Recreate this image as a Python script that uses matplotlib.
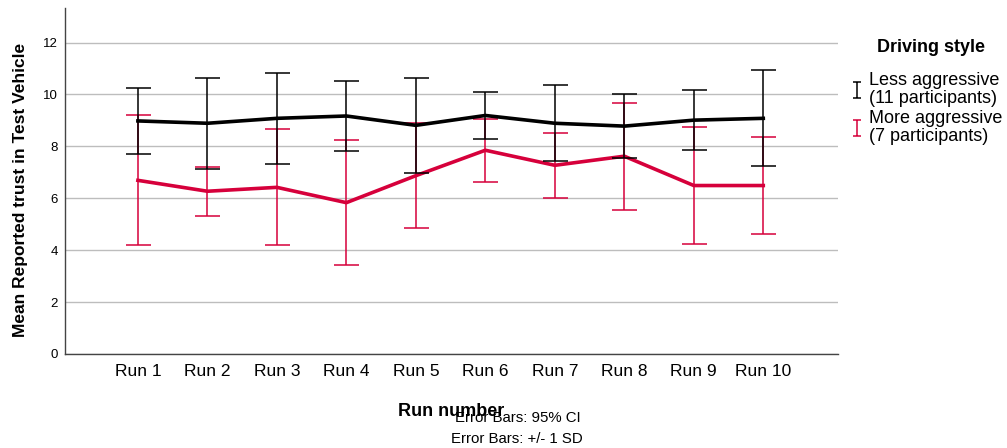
import numpy as np
import matplotlib.pyplot as plt
from matplotlib.lines import Line2D
from matplotlib.path import Path

plt.rcParams['font.family'] = ['Liberation Sans', 'DejaVu Sans']

runs = ['Run 1', 'Run 2', 'Run 3', 'Run 4', 'Run 5',
        'Run 6', 'Run 7', 'Run 8', 'Run 9', 'Run 10']

# less aggressive drivers (11 participants)
less_mean = [8.98, 8.89, 9.08, 9.17, 8.81, 9.19, 8.89, 8.78, 9.01, 9.08]
less_err = [1.26, 1.75, 1.75, 1.33, 1.83, 0.92, 1.46, 1.24, 1.15, 1.85]

# more aggressive drivers (7 participants)
more_mean = [6.69, 6.27, 6.42, 5.83, 6.87, 7.85, 7.27, 7.62, 6.49, 6.49]
more_err = [2.50, 0.95, 2.23, 2.41, 2.03, 1.22, 1.26, 2.07, 2.26, 1.87]

red = '#d6003b'
x = np.arange(len(runs))

fig = plt.figure(figsize=(10.07, 4.48), dpi=100)
ax = fig.add_axes([0.0645, 0.21, 0.768, 0.772])

ax.errorbar(x, less_mean, yerr=less_err, color='black', lw=2.6,
            elinewidth=1.1, capsize=9, capthick=1.1, zorder=4)
ax.errorbar(x, more_mean, yerr=more_err, color=red, lw=2.6,
            elinewidth=1.1, capsize=9, capthick=1.1, zorder=3)

ax.set_xlim(-1.05, 10.08)
ax.set_ylim(0, 13.33)
ax.set_yticks([0, 2, 4, 6, 8, 10, 12])
ax.set_xticks(x)
ax.set_xticklabels(runs, fontsize=12.5)
ax.tick_params(axis='y', labelsize=9.5, length=0, pad=5)
ax.tick_params(axis='x', length=0, pad=7)
ax.grid(axis='y', color='#bdbdbd', lw=1)
ax.set_axisbelow(True)
for s in ['top', 'right']:
    ax.spines[s].set_visible(False)
for s in ['left', 'bottom']:
    ax.spines[s].set_color('#444444')
    ax.spines[s].set_linewidth(1)

ax.set_ylabel('Mean Reported trust in Test Vehicle', fontsize=12.5,
              fontweight='bold')
ax.yaxis.set_label_coords(-0.048, 0.474)
fig.text(0.448, 0.072, 'Run number', fontsize=13, fontweight='bold',
         ha='center')
fig.text(0.514, 0.059, 'Error Bars: 95% CI', fontsize=10.8, ha='center')
fig.text(0.513, 0.012, 'Error Bars: +/- 1 SD', fontsize=10.8, ha='center')

# legend with small error-bar glyphs
ibar = Path([(-0.5, 1), (0.5, 1), (0, 1), (0, -1), (-0.5, -1), (0.5, -1)],
            [Path.MOVETO, Path.LINETO, Path.MOVETO, Path.LINETO,
             Path.MOVETO, Path.LINETO])
fig.text(0.925, 0.885, 'Driving style', fontsize=13, fontweight='bold',
         ha='center')
handles = [
    Line2D([0], [0], color='black', lw=0, marker=ibar, markersize=12,
           markerfacecolor='none', markeredgewidth=1.1),
    Line2D([0], [0], color=red, lw=0, marker=ibar, markersize=12,
           markerfacecolor='none', markeredgewidth=1.1),
]
fig.legend(handles, ['Less aggressive\n(11 participants)',
                     'More aggressive\n(7 participants)'],
           loc='upper left', bbox_to_anchor=(0.837, 0.86), frameon=False,
           fontsize=13, handlelength=0.6, handletextpad=0.35,
           labelspacing=0.15, borderpad=0)
for t in fig.legends[0].get_texts():
    t.set_linespacing(1.1)

fig.savefig('out.png', dpi=100)
